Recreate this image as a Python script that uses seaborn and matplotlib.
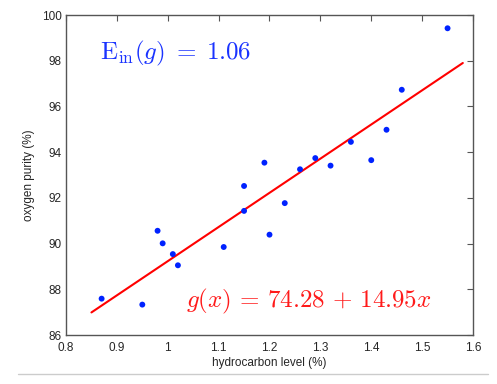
import numpy as np
import pandas as pd
import matplotlib
matplotlib.use("Agg")
import matplotlib.pyplot as plt
import seaborn as sns
from matplotlib.lines import Line2D

hydrocarbon = [0.99, 1.02, 1.15, 1.29, 1.46, 1.36, 0.87, 1.23, 1.55, 1.40,
               1.19, 1.15, 0.98, 1.01, 1.11, 1.20, 1.26, 1.32, 1.43, 0.95]
purity = [90.01, 89.05, 91.43, 93.74, 96.73, 94.45, 87.59, 91.77, 99.42, 93.65,
          93.54, 92.52, 90.56, 89.54, 89.85, 90.39, 93.25, 93.41, 94.98, 87.33]
intercept, slope = 74.28, 14.95
fit_x = [0.85, 1.58]
x_ticks = [0.8, 0.9, 1.0, 1.1, 1.2, 1.3, 1.4, 1.5, 1.6]
x_ticklabels = ["0.8", "0.9", "1", "1.1", "1.2", "1.3", "1.4", "1.5", "1.6"]
y_ticks = [86, 88, 90, 92, 94, 96, 98, 100]

sns.set_style("white")
plt.rcParams["font.family"] = ["Liberation Sans", "DejaVu Sans"]
plt.rcParams["mathtext.fontset"] = "cm"

df = pd.DataFrame({"x": hydrocarbon, "y": purity})
fit = pd.DataFrame({"x": fit_x, "y": [intercept + slope * v for v in fit_x]})

fig = plt.figure(figsize=(4.97, 3.84), dpi=100)
ax = fig.add_axes([0.1328, 0.1276, 0.8189, 0.8333])

sns.lineplot(data=fit, x="x", y="y", color="#ff0000", lw=1.5, ax=ax, zorder=2)
sns.scatterplot(data=df, x="x", y="y", color="#0022ff", s=18, edgecolor="none",
                ax=ax, zorder=3)

ax.set_xlim(0.8, 1.6)
ax.set_ylim(86, 100)
ax.set_xticks(x_ticks)
ax.set_xticklabels(x_ticklabels)
ax.set_yticks(y_ticks)
ax.tick_params(direction="in", length=4, width=0.8, color="#555555",
               labelsize=8.5, top=True, right=True)
ax.tick_params(axis="x", pad=5)
ax.tick_params(axis="y", pad=3)
ax.set_xlabel("hydrocarbon level (%)", fontsize=8.5, labelpad=2)
ax.set_ylabel("oxygen purity (%)", fontsize=8.5, labelpad=5)
for sp in ax.spines.values():
    sp.set_color("#555555")
    sp.set_linewidth(1)

ax.text(0.867, 98.3, r"$\mathrm{E}_{\mathrm{in}}(g)\;=\;1.06$", color="#1a33ff",
        fontsize=18, va="center", ha="left")
ax.text(1.036, 87.45, r"$g(x)\,=\,74.28\,+\,14.95x$", color="#ff1a1a",
        fontsize=18, va="center", ha="left")

fig.add_artist(Line2D([18 / 497, 488 / 497], [1 - 374 / 384] * 2,
                      color="#cccccc", lw=1, transform=fig.transFigure))

fig.savefig("out.png", dpi=100)
